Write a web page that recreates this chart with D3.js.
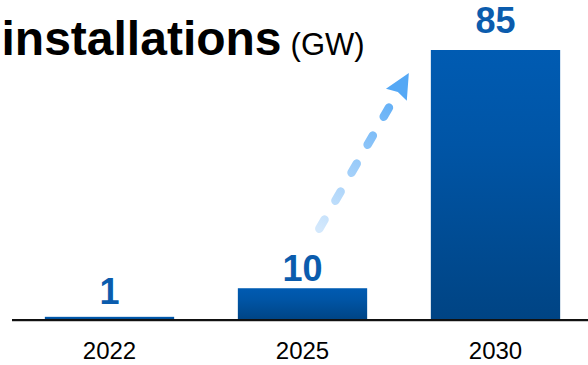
<!DOCTYPE html>
<html>
<head>
<meta charset="utf-8">
<script src="https://cdn.jsdelivr.net/npm/d3@7"></script>
<style>
  html, body { margin: 0; padding: 0; background: #fff; }
  svg { display: block; font-family: "Liberation Sans", Arial, Helvetica, sans-serif; }
</style>
</head>
<body>
<svg id="chart" width="588" height="365"></svg>
<script>
// Installed capacity by year (GW)
const years = ["2022", "2025", "2030"];
const capacity = [1, 10, 85];
const titleText = "installations";
const unitText = "(GW)";

// Layout tuning for the value labels (gap above each bar, px)
const labelGap = [13, 7, 17];

const W = 588, H = 365;
const baseY = 320;
const svg = d3.select("#chart");

const x = d3.scaleBand()
  .domain(years)
  .range([13, 592])
  .paddingInner(0.33)
  .paddingOuter(0.165);

const y = d3.scaleLinear()
  .domain([0, 85])
  .range([baseY, 50]);

const defs = svg.append("defs");

// Vertical bar gradient, per bar
const bg = defs.append("linearGradient")
  .attr("id", "barGrad")
  .attr("x1", 0).attr("y1", 0).attr("x2", 0).attr("y2", 1);
bg.append("stop").attr("offset", "0%").attr("stop-color", "#005bb2");
bg.append("stop").attr("offset", "35%").attr("stop-color", "#0055a6");
bg.append("stop").attr("offset", "100%").attr("stop-color", "#004484");

// Title
const title = svg.append("text")
  .attr("x", 1.5)
  .attr("y", 55)
  .attr("fill", "#000");
title.append("tspan")
  .attr("font-size", 48)
  .attr("font-weight", "bold")
  .text(titleText);
title.append("tspan")
  .attr("dx", 9)
  .attr("font-size", 31)
  .text(unitText);

// Bars
svg.selectAll("rect.bar")
  .data(years)
  .join("rect")
  .attr("class", "bar")
  .attr("x", d => x(d))
  .attr("width", x.bandwidth())
  .attr("y", (d, i) => y(capacity[i]))
  .attr("height", (d, i) => baseY - y(capacity[i]))
  .attr("fill", "url(#barGrad)");

// Value labels
svg.selectAll("text.val")
  .data(years)
  .join("text")
  .attr("class", "val")
  .attr("x", d => x(d) + x.bandwidth() / 2)
  .attr("y", (d, i) => y(capacity[i]) - labelGap[i])
  .attr("text-anchor", "middle")
  .attr("font-size", 36)
  .attr("font-weight", "bold")
  .attr("fill", "#0b5cad")
  .text((d, i) => capacity[i]);

// Baseline axis with year labels
const axis = d3.axisBottom(x).tickSize(0).tickPadding(0);
const gAxis = svg.append("g")
  .attr("transform", `translate(0,${baseY})`)
  .call(axis);
gAxis.select(".domain").remove();
gAxis.selectAll(".tick text")
  .attr("y", 39)
  .attr("dy", 0)
  .attr("font-size", 24)
  .attr("font-family", "\"Liberation Sans\", Arial, sans-serif")
  .attr("fill", "#000");
svg.append("line")
  .attr("x1", 12).attr("x2", W)
  .attr("y1", baseY + 1.5).attr("y2", baseY + 1.5)
  .attr("stroke", "#c8c8c8").attr("stroke-width", 1);
svg.append("line")
  .attr("x1", 12).attr("x2", W)
  .attr("y1", baseY).attr("y2", baseY)
  .attr("stroke", "#111").attr("stroke-width", 2.2);

// Growth arrow from the 2025 bar toward the 2030 bar
const sx = x("2025") + x.bandwidth() * 0.63;
const sy = y(10) - 59.5;
const tipX = x("2030") - 22;
const tipY = y(85) + 23;
const dxA = tipX - sx, dyA = tipY - sy;
const len = Math.hypot(dxA, dyA);
const ux = dxA / len, uy = dyA / len;
const headLen = 25, headHalf = 12;
const bx = tipX - ux * headLen, by = tipY - uy * headLen;

const ag = defs.append("linearGradient")
  .attr("id", "arrowGrad")
  .attr("gradientUnits", "userSpaceOnUse")
  .attr("x1", sx).attr("y1", sy).attr("x2", bx).attr("y2", by);
ag.append("stop").attr("offset", "0%").attr("stop-color", "#d3e8fc");
ag.append("stop").attr("offset", "100%").attr("stop-color", "#5eadf6");

svg.append("line")
  .attr("x1", sx).attr("y1", sy)
  .attr("x2", bx).attr("y2", by)
  .attr("stroke", "url(#arrowGrad)")
  .attr("stroke-width", 8.5)
  .attr("stroke-linecap", "round")
  .attr("stroke-dasharray", "10.5,21.8");

const px = -uy, py = ux;
svg.append("path")
  .attr("d", d3.line()([
    [tipX, tipY],
    [bx + px * headHalf, by + py * headHalf],
    [bx + ux * 3, by + uy * 3],
    [bx - px * headHalf, by - py * headHalf]
  ]) + "Z")
  .attr("fill", "#55a8f5");
</script>
</body>
</html>
